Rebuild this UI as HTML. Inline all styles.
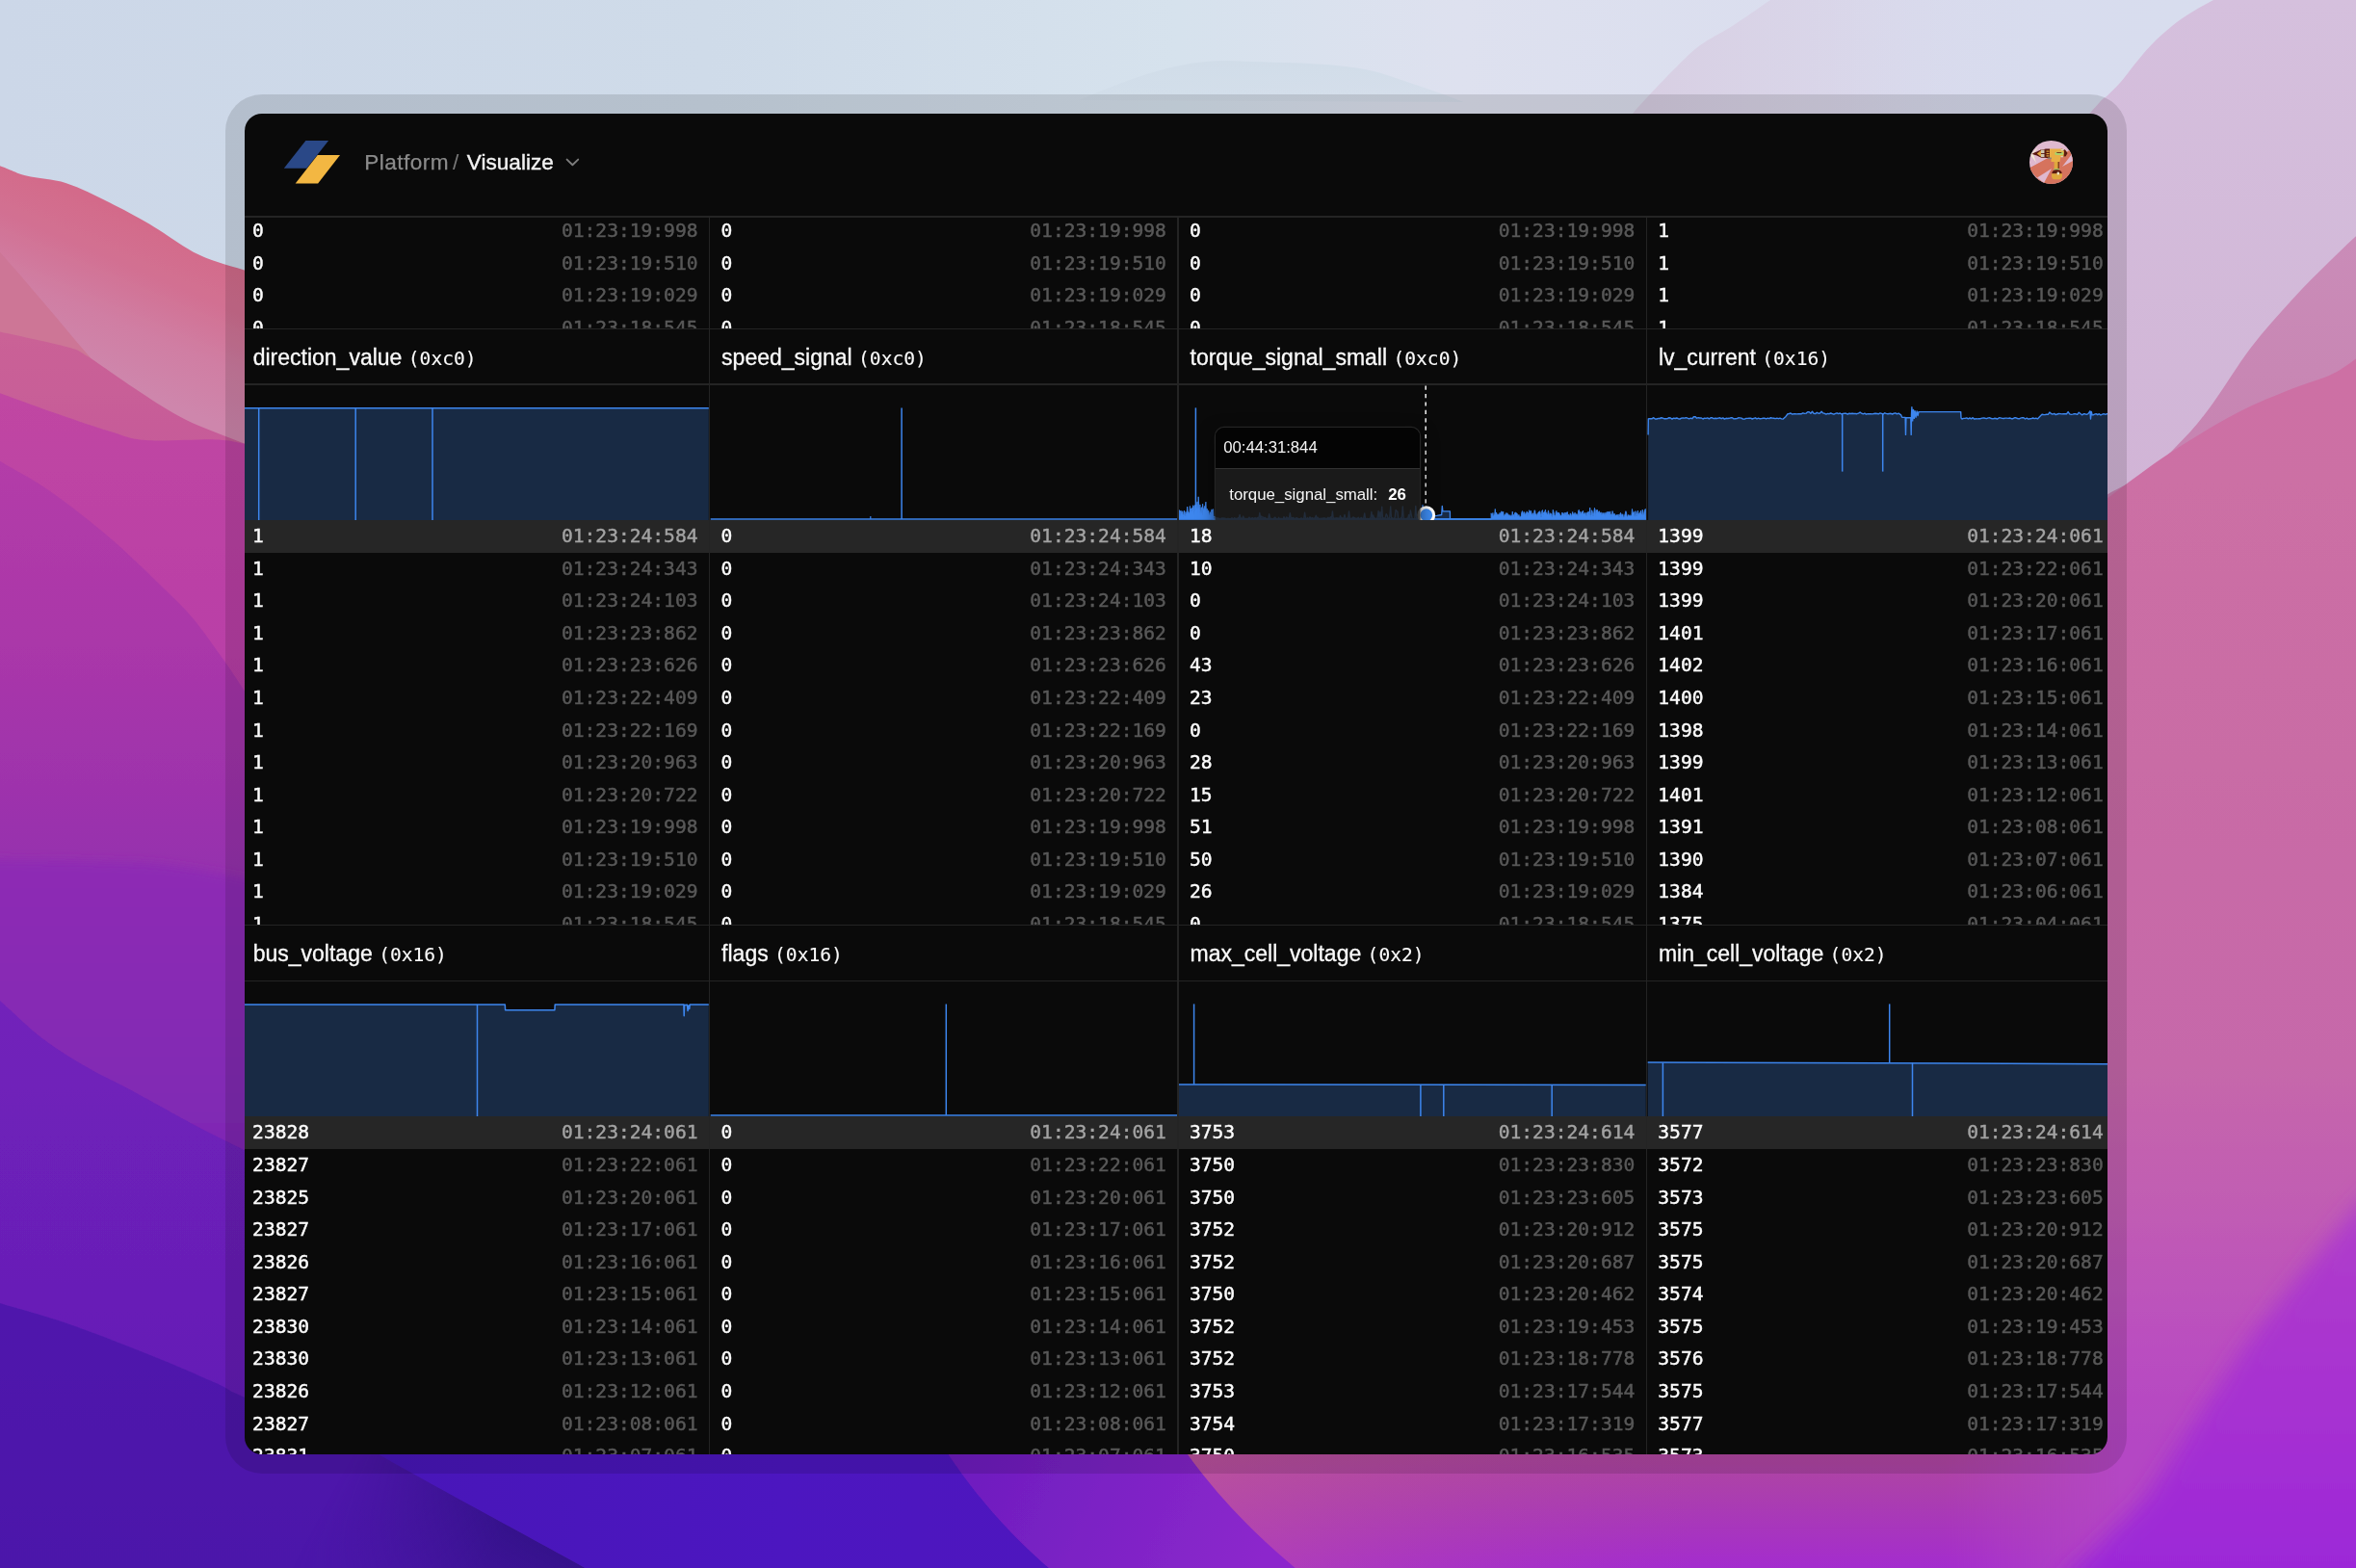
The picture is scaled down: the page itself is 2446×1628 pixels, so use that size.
<!DOCTYPE html>
<html lang="en"><head><meta charset="utf-8"><title>Platform / Visualize</title>
<style>
html,body{margin:0;padding:0}
body{width:2446px;height:1628px;overflow:hidden;position:relative;background:#cfd9e8;
 font-family:"Liberation Sans",sans-serif;-webkit-font-smoothing:antialiased}
#bg{position:absolute;left:0;top:0}
#frame{position:absolute;left:234px;top:98px;width:1974px;height:1432px;border-radius:38px;background:rgba(0,0,0,.118)}
#win{will-change:transform;position:absolute;left:254px;top:118px;width:1934px;height:1392px;border-radius:18px;background:#0a0a0a;overflow:hidden;color:#fafafa}
.abs{position:absolute}
.hl{position:absolute;left:0;width:1934px;height:1.4px;background:#242424}
.vl{position:absolute;width:1.4px;background:#242424}
.mono{font-family:"DejaVu Sans Mono","Liberation Mono",monospace}
.row{position:absolute;height:33.6px;line-height:33.6px;font-family:"DejaVu Sans Mono","Liberation Mono",monospace;font-size:19.6px;white-space:nowrap}
.row b{position:absolute;left:11.8px;top:0.45px;font-weight:400;color:#fcfcfc;-webkit-text-stroke:0.42px #fcfcfc}
.row i{position:absolute;right:12.2px;top:0.45px;font-style:normal;color:#585858;-webkit-text-stroke:0.45px #585858}
.row.on{background:#262626;height:34.4px}
.row.on i{color:#a3a3a3;-webkit-text-stroke:0.4px #a3a3a3}
.ttl{position:absolute;height:56px;line-height:56px;font-size:23px;color:#fafafa;white-space:nowrap;-webkit-text-stroke:0.3px #fafafa}
.ttl span{font-family:"DejaVu Sans Mono","Liberation Mono",monospace;font-size:19.6px;-webkit-text-stroke:0.12px #fafafa}
.sec{position:absolute;overflow:hidden}
svg{display:block}
</style></head><body>
<svg id="bg" width="2446" height="1628" viewBox="0 0 2446 1628">
<defs>
<linearGradient id="gsky" gradientUnits="userSpaceOnUse" x1="0" y1="0" x2="2446" y2="0"><stop offset="0" stop-color="rgb(204,215,232)"/><stop offset="0.3" stop-color="rgb(207,219,233)"/><stop offset="0.5" stop-color="rgb(214,226,237)"/><stop offset="0.62" stop-color="rgb(222,225,239)"/><stop offset="0.85" stop-color="rgb(216,220,238)"/><stop offset="1" stop-color="rgb(216,222,238)"/></linearGradient>
<linearGradient id="gl1" gradientUnits="userSpaceOnUse" x1="130" y1="222" x2="66" y2="372"><stop offset="0" stop-color="rgb(211,107,138)"/><stop offset="0.3" stop-color="rgb(210,112,146)"/><stop offset="0.65" stop-color="rgb(208,126,163)"/><stop offset="1" stop-color="rgb(206,134,172)"/></linearGradient>
<linearGradient id="gl3" gradientUnits="userSpaceOnUse" x1="0" y1="350" x2="0" y2="470"><stop offset="0" stop-color="rgb(202,98,150)"/><stop offset="1" stop-color="rgb(198,90,153)"/></linearGradient>
<linearGradient id="gl4" gradientUnits="userSpaceOnUse" x1="0" y1="410" x2="0" y2="720"><stop offset="0" stop-color="rgb(192,70,162)"/><stop offset="1" stop-color="rgb(184,62,168)"/></linearGradient>
<linearGradient id="gl5" gradientUnits="userSpaceOnUse" x1="0" y1="480" x2="0" y2="900"><stop offset="0" stop-color="rgb(179,60,168)"/><stop offset="0.45" stop-color="rgb(170,55,169)"/><stop offset="0.8" stop-color="rgb(158,51,172)"/><stop offset="1" stop-color="rgb(150,48,174)"/></linearGradient>
<linearGradient id="gl6" gradientUnits="userSpaceOnUse" x1="0" y1="890" x2="0" y2="1200"><stop offset="0" stop-color="rgb(142,43,180)"/><stop offset="1" stop-color="rgb(126,40,180)"/></linearGradient>
<linearGradient id="gl7" gradientUnits="userSpaceOnUse" x1="0" y1="1040" x2="0" y2="1450"><stop offset="0" stop-color="rgb(114,33,186)"/><stop offset="1" stop-color="rgb(100,30,182)"/></linearGradient>
<linearGradient id="gl8" gradientUnits="userSpaceOnUse" x1="0" y1="1350" x2="0" y2="1628"><stop offset="0" stop-color="rgb(80,25,172)"/><stop offset="1" stop-color="rgb(76,24,170)"/></linearGradient>
<linearGradient id="gwp" gradientUnits="userSpaceOnUse" x1="394.6" y1="1510.8" x2="305.4" y2="1672.9"><stop offset="0" stop-color="rgb(52,18,138)" stop-opacity="0.95"/><stop offset="0.35" stop-color="rgb(54,18,140)" stop-opacity="0.6"/><stop offset="0.7" stop-color="rgb(58,19,146)" stop-opacity="0.22"/><stop offset="1" stop-color="rgb(60,20,150)" stop-opacity="0"/></linearGradient>
<linearGradient id="gwa" gradientUnits="userSpaceOnUse" x1="372.7" y1="1498.8" x2="526" y2="1583.1"><stop offset="0" stop-color="rgb(255,255,255)" stop-opacity="0"/><stop offset="0.5" stop-color="rgb(255,255,255)" stop-opacity="0.55"/><stop offset="1" stop-color="rgb(255,255,255)" stop-opacity="1"/></linearGradient>
<mask id="mwedge" maskUnits="userSpaceOnUse" x="-100" y="1300" width="1000" height="500"><rect x="-100" y="1300" width="1000" height="500" fill="url(#gwa)"/></mask>
<linearGradient id="gbma" gradientUnits="userSpaceOnUse" x1="2020" y1="0" x2="2200" y2="0"><stop offset="0" stop-color="rgb(255,255,255)" stop-opacity="1"/><stop offset="0.5" stop-color="rgb(255,255,255)" stop-opacity="0.5"/><stop offset="1" stop-color="rgb(255,255,255)" stop-opacity="0"/></linearGradient>
<mask id="mbm" maskUnits="userSpaceOnUse" x="1100" y="1400" width="1400" height="400"><rect x="1100" y="1400" width="1400" height="400" fill="url(#gbma)"/></mask>
<linearGradient id="gpk" gradientUnits="userSpaceOnUse" x1="1240" y1="1500" x2="1760" y2="1600"><stop offset="0" stop-color="rgb(198,96,150)" stop-opacity="0.45"/><stop offset="0.5" stop-color="rgb(190,86,152)" stop-opacity="0.2"/><stop offset="1" stop-color="rgb(180,76,158)" stop-opacity="0"/></linearGradient>
<linearGradient id="gbb" gradientUnits="userSpaceOnUse" x1="394" y1="0" x2="1090" y2="0"><stop offset="0" stop-color="rgb(72,22,184)"/><stop offset="0.6" stop-color="rgb(76,22,192)"/><stop offset="1" stop-color="rgb(78,22,190)"/></linearGradient>
<linearGradient id="gbp" gradientUnits="userSpaceOnUse" x1="986" y1="1500" x2="1300" y2="1640"><stop offset="0" stop-color="rgb(108,28,190)"/><stop offset="1" stop-color="rgb(140,40,204)"/></linearGradient>
<linearGradient id="gbm" gradientUnits="userSpaceOnUse" x1="0" y1="1505" x2="0" y2="1628"><stop offset="0" stop-color="rgb(176,72,158)"/><stop offset="0.45" stop-color="rgb(170,60,178)"/><stop offset="1" stop-color="rgb(164,44,206)"/></linearGradient>
<linearGradient id="gr0" gradientUnits="userSpaceOnUse" x1="1713" y1="0" x2="2130" y2="0"><stop offset="0" stop-color="rgb(216,207,227)" stop-opacity="1"/><stop offset="0.45" stop-color="rgb(217,211,231)" stop-opacity="0.75"/><stop offset="1" stop-color="rgb(216,219,238)" stop-opacity="0"/></linearGradient>
<linearGradient id="gr1" gradientUnits="userSpaceOnUse" x1="0" y1="0" x2="0" y2="520"><stop offset="0" stop-color="rgb(213,192,221)"/><stop offset="1" stop-color="rgb(209,180,214)"/></linearGradient>
<linearGradient id="gr2" gradientUnits="userSpaceOnUse" x1="0" y1="250" x2="0" y2="520"><stop offset="0" stop-color="rgb(202,140,184)"/><stop offset="1" stop-color="rgb(198,130,176)"/></linearGradient>
<linearGradient id="gr3" gradientUnits="userSpaceOnUse" x1="0" y1="400" x2="0" y2="1500"><stop offset="0" stop-color="rgb(205,112,164)"/><stop offset="0.36" stop-color="rgb(201,108,165)"/><stop offset="0.64" stop-color="rgb(198,104,170)"/><stop offset="0.77" stop-color="rgb(193,93,179)"/><stop offset="0.91" stop-color="rgb(186,78,192)"/><stop offset="1" stop-color="rgb(180,70,196)"/></linearGradient>
<linearGradient id="gr4" gradientUnits="userSpaceOnUse" x1="0" y1="1250" x2="0" y2="1628"><stop offset="0" stop-color="rgb(176,62,202)"/><stop offset="0.6" stop-color="rgb(166,48,210)"/><stop offset="1" stop-color="rgb(156,40,216)"/></linearGradient>
<linearGradient id="ghill" gradientUnits="userSpaceOnUse" x1="0" y1="60" x2="0" y2="110"><stop offset="0" stop-color="rgb(208,220,232)" stop-opacity="0.9"/><stop offset="1" stop-color="rgb(208,220,232)" stop-opacity="0.5"/></linearGradient>
<filter id="b2" x="-5%" y="-5%" width="110%" height="110%"><feGaussianBlur stdDeviation="0.7"/></filter>
<filter id="b6" x="-10%" y="-10%" width="120%" height="120%"><feGaussianBlur stdDeviation="5"/></filter>
<filter id="b12" x="-20%" y="-20%" width="140%" height="140%"><feGaussianBlur stdDeviation="11"/></filter>
<filter id="b20" x="-20%" y="-40%" width="140%" height="180%"><feGaussianBlur stdDeviation="18"/></filter>
</defs>
<rect width="2446" height="1628" fill="url(#gsky)"/>
<path d="M1120 104 C1180 78 1230 62 1275 63 C1340 66 1400 64 1440 78 C1470 88 1500 98 1520 106 Z" fill="url(#ghill)"/>
<path d="M-60.0 150.0 C-50.0 153.7 -14.6 166.9 0.0 172.3 C14.6 177.7 16.0 179.6 27.5 182.6 C39.0 185.6 54.6 185.6 68.9 190.2 C83.2 194.8 99.2 203.1 113.6 210.2 C127.9 217.3 139.5 223.5 155.0 232.6 C170.5 241.7 189.1 256.3 206.6 264.6 C224.1 272.9 244.4 277.3 260.0 282.5 C275.6 287.7 276.7 288.1 300.0 296.0 C323.3 303.9 350.0 314.3 400.0 330.0 C450.0 345.7 516.7 366.7 600.0 390.0 C683.3 413.3 850.0 456.7 900.0 470.0 L900.0 1700.0 L-60.0 1700.0 Z" fill="url(#gl1)" filter="url(#b2)"/>
<path d="M-60.0 195.0 C-50.0 206.1 -17.5 242.1 0.0 261.8 C17.5 281.6 29.6 295.7 44.8 313.5 C60.0 331.3 75.4 350.2 91.3 368.6 C107.2 387.0 131.9 414.8 140.0 424.0 L-60.0 424.0 Z" fill="rgb(205,118,150)" filter="url(#b2)"/>
<path d="M-60.0 331.0 C-50.0 333.2 -21.5 339.7 0.0 344.5 C21.5 349.3 53.7 355.7 68.9 360.0 C84.1 364.3 78.7 362.6 91.3 370.3 C103.9 378.1 127.7 395.6 144.6 406.5 C161.5 417.4 174.4 426.6 192.8 435.7 C211.2 444.8 236.9 453.7 254.8 460.9 C272.7 468.1 275.8 469.1 300.0 479.0 C324.2 488.9 350.0 499.8 400.0 520.0 C450.0 540.2 516.7 570.0 600.0 600.0 C683.3 630.0 850.0 683.3 900.0 700.0 L900.0 1700.0 L-60.0 1700.0 Z" fill="url(#gl3)" filter="url(#b2)"/>
<path d="M-60.0 386.5 C-50.0 390.1 -20.3 400.8 0.0 408.2 C20.3 415.6 43.1 424.0 62.0 430.6 C80.9 437.2 98.7 443.4 113.6 447.8 C128.5 452.2 133.1 455.7 151.5 457.1 C169.9 458.5 206.6 455.8 223.8 456.4 C241.0 457.0 242.1 458.6 254.8 460.9 C267.5 463.2 275.8 463.5 300.0 470.0 C324.2 476.5 350.0 481.7 400.0 500.0 C450.0 518.3 516.7 546.7 600.0 580.0 C683.3 613.3 850.0 680.0 900.0 700.0 L900.0 1700.0 L-60.0 1700.0 Z" fill="url(#gl4)" filter="url(#b2)"/>
<path d="M-60.0 442.8 C-50.0 448.8 -18.6 467.6 0.0 478.8 C18.6 490.0 32.8 496.6 51.7 509.8 C70.6 523.0 94.7 541.9 113.6 558.0 C132.5 574.1 151.0 592.3 165.3 606.2 C179.7 620.1 188.2 627.7 199.7 641.3 C211.1 654.9 224.8 674.9 234.0 687.8 C243.2 700.7 247.8 708.1 254.8 718.8 C261.8 729.5 268.5 740.1 276.0 752.0 C283.5 763.9 288.5 772.0 300.0 790.0 C311.5 808.0 325.0 830.0 345.0 860.0 C365.0 890.0 377.5 913.3 420.0 970.0 C462.5 1026.7 520.0 1111.7 600.0 1200.0 C680.0 1288.3 850.0 1450.0 900.0 1500.0 L900.0 1700.0 L-60.0 1700.0 Z" fill="url(#gl5)" filter="url(#b2)"/>
<path d="M-60.0 892.2 C-50.0 892.3 -27.2 892.3 0.0 892.7 C27.2 893.1 74.3 893.5 103.0 894.4 C131.7 895.3 146.7 895.0 172.0 897.9 C197.3 900.8 233.5 907.6 254.8 911.6 C276.1 915.6 275.8 915.6 300.0 922.0 C324.2 928.4 350.0 935.3 400.0 950.0 C450.0 964.7 516.7 985.0 600.0 1010.0 C683.3 1035.0 850.0 1085.0 900.0 1100.0 L900.0 1700.0 L-60.0 1700.0 Z" fill="url(#gl6)" filter="url(#b6)"/>
<path d="M-60.0 985.8 C-50.0 994.7 -17.5 1023.5 0.0 1039.0 C17.5 1054.5 29.3 1066.9 44.8 1078.7 C60.3 1090.5 77.5 1100.6 93.0 1109.6 C108.5 1118.6 118.8 1122.6 137.7 1132.8 C156.6 1143.0 187.1 1160.3 206.6 1170.6 C226.1 1180.9 239.2 1186.8 254.8 1194.7 C270.4 1202.6 275.8 1205.5 300.0 1218.0 C324.2 1230.5 350.0 1244.7 400.0 1270.0 C450.0 1295.3 516.7 1331.7 600.0 1370.0 C683.3 1408.3 850.0 1478.3 900.0 1500.0 L900.0 1700.0 L-60.0 1700.0 Z" fill="url(#gl7)" filter="url(#b2)"/>
<path d="M-60.0 1335.0 C-50.0 1338.0 -21.5 1346.5 0.0 1353.0 C21.5 1359.5 43.1 1364.9 68.9 1373.8 C94.7 1382.7 129.2 1396.2 155.0 1406.5 C180.8 1416.8 206.3 1428.0 223.8 1435.8 C241.3 1443.5 230.6 1441.5 260.0 1453.0 C289.4 1464.5 373.3 1495.2 400.0 1505.0 C426.7 1514.8 416.7 1510.8 420.0 1512.0 L1300.0 1512.0 L1300.0 1700.0 L-60.0 1700.0 Z" fill="url(#gl8)" filter="url(#b2)"/>
<path d="M1680.0 140.0 C1682.5 136.3 1689.5 125.0 1695.0 118.0 C1700.5 111.0 1705.5 106.0 1713.0 98.0 C1720.5 90.0 1731.3 78.5 1740.0 70.0 C1748.7 61.5 1755.0 54.3 1765.0 47.0 C1775.0 39.7 1787.8 33.8 1800.0 26.0 C1812.2 18.2 1831.7 4.3 1838.0 0.0 L2446.0 0.0 L2446.0 140.0 Z" fill="url(#gr0)"/>
<path d="M2150.0 140.0 C2155.0 134.3 2173.8 112.7 2180.0 106.0 C2186.2 99.3 2183.5 103.3 2187.0 100.0 C2190.5 96.7 2196.2 91.5 2201.0 86.0 C2205.8 80.5 2210.6 73.6 2216.0 67.0 C2221.4 60.4 2227.1 53.1 2233.6 46.4 C2240.1 39.7 2248.1 32.6 2255.0 27.0 C2261.9 21.4 2267.8 17.5 2275.0 13.0 C2282.2 8.5 2290.5 4.2 2298.0 0.0 C2305.5 -4.2 2316.3 -10.0 2320.0 -12.0 L2460.0 0.0 L2460.0 1700.0 L2150.0 1700.0 Z" fill="url(#gr1)" filter="url(#b2)"/>
<path d="M2100.0 575.0 C2108.3 569.2 2135.5 550.2 2150.0 540.0 C2164.5 529.8 2173.7 522.3 2187.0 514.0 C2200.3 505.7 2216.3 500.1 2230.0 490.0 C2243.7 479.9 2257.7 465.6 2269.0 453.6 C2280.3 441.6 2286.6 433.4 2297.9 417.9 C2309.2 402.4 2323.3 378.6 2337.0 360.7 C2350.7 342.8 2366.2 325.8 2380.0 310.7 C2393.8 295.6 2406.7 283.1 2420.0 270.0 C2433.3 256.9 2453.3 238.3 2460.0 232.0 L2460.0 1700.0 L2100.0 1700.0 Z" fill="url(#gr2)" filter="url(#b2)"/>
<path d="M2100.0 580.0 C2108.3 574.2 2135.5 555.4 2150.0 545.0 C2164.5 534.6 2170.2 530.2 2187.0 517.9 C2203.8 505.6 2228.3 486.3 2251.0 471.4 C2273.7 456.5 2301.4 439.9 2322.9 428.6 C2344.4 417.3 2363.3 410.5 2380.0 403.6 C2396.7 396.8 2409.6 394.4 2422.9 387.5 C2436.2 380.6 2453.8 366.2 2460.0 362.0 L2460.0 1700.0 L1200.0 1700.0 L1200.0 1505.0 L2100.0 1505.0 Z" fill="url(#gr3)" filter="url(#b2)"/>
<path d="M307.0 1462.6 L683.7 1669.9 L553.5 1906.4 L176.9 1699.1 Z" fill="url(#gwp)" mask="url(#mwedge)"/>
<path d="M380.0 1495.0 C382.4 1497.6 356.7 1488.6 394.6 1510.8 C432.5 1533.0 569.1 1606.5 607.5 1628.0 C645.9 1649.5 509.6 1638.0 625.0 1640.0 C740.4 1642.0 1187.5 1664.2 1300.0 1640.0 C1412.5 1615.8 1300.0 1519.2 1300.0 1495.0 Z" fill="url(#gbb)"/>
<path d="M960 1495 L978 1500 C1010 1550 1050 1596 1096 1634 L1500 1640 L1500 1495 Z" fill="url(#gbp)" filter="url(#b2)"/>
<path d="M1215 1495 L1233 1510 C1262 1550 1300 1592 1352 1634 L1360 1700 L2460 1700 L2460 1495 Z" fill="url(#gbm)" mask="url(#mbm)"/>
<path d="M1233 1510 C1262 1550 1300 1592 1352 1634 L1800 1634 L1800 1510 Z" fill="url(#gpk)"/>
<path d="M2520 1180 L2446 1253.7 C2420 1285 2370 1345 2337 1389 C2310 1428 2270 1490 2233 1547 C2215 1570 2180 1602 2140 1640 L2140 1700 L2520 1700 L2520 1240 Z" fill="url(#gr4)" filter="url(#b12)"/>
</svg>
<div id="frame"></div>
<div id="win">
<svg class="abs" style="left:36.0px;top:24.0px" width="70" height="54" viewBox="290 142 70 54"><polygon points="317.4,146 341.1,146 318.4,174.8 294.8,174.8" fill="#2a4887"/><polygon points="329.7,161 353,161 330.1,190.4 306.7,190.4" fill="#f3b742"/></svg>
<div class="abs" id="crumb" style="left:124.2px;top:30.6px;height:40px;line-height:40px;font-size:22.6px;white-space:nowrap"><span id="c1" style="color:#8b8b8b;letter-spacing:0.45px;-webkit-text-stroke:0.25px #8b8b8b">Platform</span><span id="c2" style="color:#787878;margin-left:4.1px">/</span><span id="c3" style="color:#f2f2f2;margin-left:8.5px;letter-spacing:0px;-webkit-text-stroke:0.4px #f2f2f2">Visualize</span></div>
<svg class="abs" style="left:330.0px;top:43.0px" width="20" height="14" viewBox="584 161 20 14"><path d="M588.6 165.6 L594.4 171.2 L600.2 165.6" fill="none" stroke="#7d7d7d" stroke-width="1.9" stroke-linecap="round" stroke-linejoin="round"/></svg>
<svg class="abs" style="left:1840.0px;top:16.0px" width="70" height="70" viewBox="0 0 70 70"><defs><clipPath id="avc"><circle cx="35.5" cy="34.4" r="22.5"/></clipPath></defs><g clip-path="url(#avc)"><rect x="10" y="10" width="52" height="50" fill="#dfb9cf"/><polygon points="12,41 34,30 44,30 58,19 62,19 62,60 26,60 20,52 36,41 30,56 21,51" fill="#d6735d"/><polygon points="13,40.5 33,29.5 37,36 21,50" fill="#d6735d"/><polygon points="21,50.5 36,41 28,56" fill="#dfb9cf"/><polygon points="47,39 57,26 58,33" fill="#dfb9cf"/><polygon points="14.8,25.7 20.6,23.4 25.2,21.2 30,20.8 30,29.8 25.2,29.8 20.6,27.6" fill="#5a1a10"/><polygon points="20.8,25.6 25,22.3 25,28.8" fill="#e0a73e"/><polygon points="13.6,26.2 21.9,19 19.4,22.6 16.2,25.4" fill="#f2ecd2"/><polygon points="14,26 17.2,26.8 20,35 15.4,28.4" fill="#f2ecd2"/><rect x="25" y="21.5" width="3.5" height="3.6" fill="#cfc7b0"/><rect x="25" y="26" width="3.5" height="3" fill="#cfc7b0"/><rect x="29.5" y="20.5" width="4.5" height="9.5" fill="#5a1a10"/><rect x="30.5" y="22.5" width="3" height="1.2" fill="#e0a73e"/><rect x="30.5" y="25" width="3" height="1.2" fill="#e0a73e"/><rect x="30.5" y="27.3" width="3" height="1.2" fill="#e0a73e"/><path d="M34 20.5 L47 20.5 L50.5 22 L52.5 25 L50.5 28.5 L45.5 28.5 L44.5 34 L35.5 34 L35.5 30 L34 30 Z" fill="#e8ae45"/><path d="M46 20.8 L50 21.5 L52.6 25 L50.5 28.6 L48.5 28.6 L49 23 Z" fill="#5a1a10"/><rect x="45.6" y="21" width="3.2" height="1.3" fill="#d8d2c0"/><rect x="45.8" y="28" width="2" height="1.3" fill="#d8d2c0"/><rect x="39.3" y="23.8" width="9" height="3.2" rx="1.5" fill="#a9d26b"/><rect x="41.3" y="24" width="5" height="0.9" fill="#6b2a18"/><rect x="32" y="29.5" width="3.8" height="1.6" fill="#8c8678"/><rect x="38.6" y="34" width="5.2" height="7.5" fill="#e0a73e"/><rect x="42.6" y="34" width="1.2" height="7.5" fill="#6b2a18"/><rect x="38.3" y="41" width="5.8" height="1.6" fill="#9fbf66"/><path d="M36.2 46.5 Q36.5 42.3 41.2 42.3 Q46.5 42.3 46.8 46.5 Z" fill="#5a1a10"/><path d="M36 46.3 L47 46.3 L47 49 Q46.5 52 44 52.2 L38.5 52.2 Q36.3 52 36 49 Z" fill="#dea63c"/><rect x="41.6" y="44.6" width="2.4" height="3" rx="1" fill="#ece6c8"/></g></svg>
<div class="hl" style="top:106.30px"></div><div class="hl" style="top:222.80px"></div><div class="hl" style="top:280.20px"></div><div class="hl" style="top:842.05px"></div><div class="hl" style="top:899.50px"></div>
<div class="sec" style="left:0;top:107.7px;width:1934px;height:115.1px"><div class="abs" style="left:0;top:-107.7px">
<div class="row" style="left:-3.7px;top:104.7px;width:486.4px"><b>0</b><i>01:23:19:998</i></div>
<div class="row" style="left:-3.7px;top:138.3px;width:486.4px"><b>0</b><i>01:23:19:510</i></div>
<div class="row" style="left:-3.7px;top:171.9px;width:486.4px"><b>0</b><i>01:23:19:029</i></div>
<div class="row" style="left:-3.7px;top:205.4px;width:486.4px"><b>0</b><i>01:23:18:545</i></div>
<div class="row" style="left:482.7px;top:104.7px;width:486.4px"><b>0</b><i>01:23:19:998</i></div>
<div class="row" style="left:482.7px;top:138.3px;width:486.4px"><b>0</b><i>01:23:19:510</i></div>
<div class="row" style="left:482.7px;top:171.9px;width:486.4px"><b>0</b><i>01:23:19:029</i></div>
<div class="row" style="left:482.7px;top:205.4px;width:486.4px"><b>0</b><i>01:23:18:545</i></div>
<div class="row" style="left:969.1px;top:104.7px;width:486.4px"><b>0</b><i>01:23:19:998</i></div>
<div class="row" style="left:969.1px;top:138.3px;width:486.4px"><b>0</b><i>01:23:19:510</i></div>
<div class="row" style="left:969.1px;top:171.9px;width:486.4px"><b>0</b><i>01:23:19:029</i></div>
<div class="row" style="left:969.1px;top:205.4px;width:486.4px"><b>0</b><i>01:23:18:545</i></div>
<div class="row" style="left:1455.5px;top:104.7px;width:486.4px"><b>1</b><i>01:23:19:998</i></div>
<div class="row" style="left:1455.5px;top:138.3px;width:486.4px"><b>1</b><i>01:23:19:510</i></div>
<div class="row" style="left:1455.5px;top:171.9px;width:486.4px"><b>1</b><i>01:23:19:029</i></div>
<div class="row" style="left:1455.5px;top:205.4px;width:486.4px"><b>1</b><i>01:23:18:545</i></div>
</div></div>
<div class="ttl" style="left:8.7px;top:224.6px">direction_value <span>(0xc0)</span></div>
<div class="ttl" style="left:495.1px;top:224.6px">speed_signal <span>(0xc0)</span></div>
<div class="ttl" style="left:981.5px;top:224.6px">torque_signal_small <span>(0xc0)</span></div>
<div class="ttl" style="left:1467.9px;top:224.6px">lv_current <span>(0x16)</span></div>
<div class="ttl" style="left:8.7px;top:843.9px">bus_voltage <span>(0x16)</span></div>
<div class="ttl" style="left:495.1px;top:843.9px">flags <span>(0x16)</span></div>
<div class="ttl" style="left:981.5px;top:843.9px">max_cell_voltage <span>(0x2)</span></div>
<div class="ttl" style="left:1467.9px;top:843.9px">min_cell_voltage <span>(0x2)</span></div>
<svg class="abs" style="left:-3.7px;top:281.6px" width="486.4" height="140" viewBox="250.3 399.6 486.4 140"><rect x="250.3" y="423.4" width="485.8" height="117" fill="rgb(24,42,68)"/><line x1="250.3" y1="423.4" x2="736.1" y2="423.4" stroke="#3d86ee" stroke-width="1.5"/><line x1="269.0" y1="423.4" x2="269.0" y2="539.6" stroke="#3d86ee" stroke-width="1.5"/><line x1="369.5" y1="423.4" x2="369.5" y2="539.6" stroke="#3d86ee" stroke-width="1.5"/><line x1="449.3" y1="423.4" x2="449.3" y2="539.6" stroke="#3d86ee" stroke-width="1.5"/></svg>
<svg class="abs" style="left:482.7px;top:281.6px" width="486.4" height="140" viewBox="736.7 399.6 486.4 140"><line x1="737.4" y1="538.5" x2="1222.4" y2="538.5" stroke="#3d86ee" stroke-width="1.5"/><line x1="935.8" y1="423.0" x2="935.8" y2="538.5" stroke="#3d86ee" stroke-width="1.5"/><line x1="903.5" y1="535.6" x2="903.5" y2="538.5" stroke="#3d86ee" stroke-width="1.2"/></svg>
<svg class="abs" style="left:969.1px;top:281.6px" width="486.4" height="140" viewBox="1223.1 399.6 486.4 140"><path d="M1224.0 538.6 L1224.0 533.0 L1224.5 529.2 L1225.1 535.8 L1225.6 530.2 L1226.2 529.8 L1226.7 533.8 L1227.3 530.3 L1227.8 530.8 L1228.4 536.3 L1228.9 533.1 L1229.5 529.7 L1230.0 534.7 L1230.6 535.3 L1231.1 531.0 L1231.7 535.0 L1232.2 532.3 L1232.8 525.7 L1233.3 531.3 L1233.9 531.1 L1234.4 532.1 L1235.0 533.2 L1235.5 525.1 L1236.1 531.4 L1236.6 527.5 L1237.2 530.1 L1237.7 527.0 L1238.3 526.4 L1238.8 524.3 L1239.4 525.3 L1239.9 534.3 L1240.5 524.0 L1241.0 526.8 L1241.6 528.9 L1242.1 528.2 L1242.7 523.0 L1243.2 520.4 L1243.8 532.7 L1244.3 515.4 L1244.9 524.9 L1245.4 532.7 L1246.0 523.5 L1246.5 534.5 L1247.1 527.1 L1247.6 526.3 L1248.2 534.3 L1248.7 522.8 L1249.3 529.1 L1249.8 527.9 L1250.4 526.7 L1250.9 524.9 L1251.5 524.9 L1252.0 520.7 L1252.6 532.2 L1253.1 527.7 L1253.7 529.2 L1254.2 530.9 L1254.8 529.5 L1255.3 533.9 L1255.9 534.1 L1256.4 531.3 L1257.0 534.0 L1257.5 530.6 L1258.1 528.4 L1258.6 529.3 L1259.2 528.4 L1259.7 528.3 L1260.2 538.6 Z" fill="#3d86ee" stroke="#3d86ee" stroke-width="0.9" stroke-linejoin="round"/><path d="M1260.0 538.6 L1260.0 536.0 L1263.0 537.2 L1266.0 537.9 L1266.5 538.2 L1267.4 538.5 L1268.3 537.6 L1269.2 537.7 L1270.1 537.6 L1271.0 537.7 L1271.9 537.8 L1272.8 538.2 L1273.7 538.6 L1274.6 538.0 L1275.5 538.0 L1276.4 538.5 L1277.3 538.2 L1278.2 538.3 L1279.1 537.4 L1280.0 538.3 L1280.9 538.3 L1281.8 537.2 L1282.7 538.3 L1283.6 538.0 L1284.5 538.4 L1285.4 537.1 L1286.3 537.6 L1287.2 534.0 L1288.1 538.1 L1289.0 537.6 L1289.9 538.5 L1290.8 535.6 L1291.7 537.9 L1292.6 538.1 L1293.5 538.0 L1294.4 538.2 L1295.3 537.9 L1296.2 538.0 L1297.1 536.6 L1298.0 538.3 L1298.9 537.8 L1299.8 537.4 L1300.7 537.2 L1301.6 538.5 L1302.5 537.4 L1303.4 537.1 L1304.3 538.4 L1305.2 537.3 L1306.1 536.8 L1307.0 538.1 L1307.9 532.1 L1308.8 537.5 L1309.7 535.6 L1310.6 536.7 L1311.5 536.6 L1312.4 537.5 L1313.3 536.9 L1314.2 537.5 L1315.1 538.3 L1316.0 538.6 L1316.9 537.5 L1317.8 533.3 L1318.7 537.8 L1319.6 538.1 L1320.5 537.9 L1321.4 538.4 L1322.3 538.5 L1323.2 537.0 L1324.1 536.8 L1325.0 538.1 L1325.9 538.6 L1326.8 538.6 L1327.7 536.9 L1328.6 538.4 L1329.5 537.9 L1330.4 538.0 L1331.3 538.3 L1332.2 538.4 L1333.1 536.1 L1334.0 537.9 L1334.9 538.3 L1335.8 536.5 L1336.7 537.1 L1337.6 537.4 L1338.5 537.8 L1339.4 532.2 L1340.3 537.4 L1341.2 537.2 L1342.1 537.3 L1343.0 537.1 L1343.9 538.2 L1344.8 538.2 L1345.7 537.3 L1346.6 537.5 L1347.5 537.8 L1348.4 538.5 L1349.3 538.2 L1350.2 537.9 L1351.1 537.4 L1352.0 537.9 L1352.9 538.5 L1353.8 537.8 L1354.7 531.8 L1355.6 537.7 L1356.5 538.6 L1357.4 537.1 L1358.3 537.8 L1359.2 537.9 L1360.1 536.4 L1361.0 538.1 L1361.9 537.3 L1362.8 537.2 L1363.7 538.2 L1364.6 537.6 L1365.5 537.4 L1366.4 534.8 L1367.3 537.6 L1368.2 536.8 L1369.1 537.9 L1370.0 537.9 L1370.9 538.2 L1371.8 537.7 L1372.7 538.2 L1373.6 537.5 L1374.5 537.5 L1375.4 537.4 L1376.3 538.3 L1377.2 537.9 L1378.1 537.6 L1379.0 536.7 L1379.9 537.9 L1380.8 537.2 L1381.7 536.4 L1382.6 537.7 L1383.5 530.5 L1384.4 538.2 L1385.3 537.6 L1386.2 538.0 L1387.1 537.3 L1388.0 537.7 L1388.9 537.4 L1389.8 537.8 L1390.7 538.6 L1391.6 535.0 L1392.5 537.0 L1393.4 537.5 L1394.3 537.5 L1395.2 537.4 L1396.1 533.9 L1397.0 537.8 L1397.9 538.5 L1398.8 537.5 L1399.7 538.3 L1400.6 530.6 L1401.5 537.5 L1402.4 538.0 L1403.3 538.0 L1404.2 537.5 L1405.1 536.4 L1406.0 537.6 L1406.9 537.2 L1407.8 538.3 L1408.7 537.8 L1409.6 537.7 L1410.5 536.9 L1411.4 538.2 L1412.3 538.4 L1413.2 537.0 L1414.1 537.6 L1415.0 538.5 L1415.9 537.2 L1416.8 532.4 L1417.7 538.2 L1418.6 538.3 L1419.5 538.0 L1420.4 538.2 L1421.3 538.3 L1422.2 537.8 L1423.1 538.0 L1424.0 531.0 L1424.9 537.7 L1425.8 534.4 L1426.7 537.9 L1427.6 537.5 L1428.5 538.4 L1429.4 537.9 L1430.3 536.8 L1431.2 530.0 L1432.1 537.7 L1433.0 531.3 L1433.9 537.4 L1434.8 525.7 L1435.7 538.3 L1436.6 537.3 L1437.5 537.9 L1438.4 536.8 L1439.3 533.3 L1440.2 534.6 L1441.1 537.7 L1442.0 538.3 L1442.9 536.0 L1443.8 525.5 L1444.7 538.3 L1445.6 537.4 L1446.5 538.1 L1447.4 537.9 L1448.3 536.6 L1449.2 528.9 L1450.1 530.2 L1451.0 530.6 L1451.9 538.0 L1452.8 538.3 L1453.7 538.6 L1454.6 537.2 L1455.5 536.8 L1456.4 525.5 L1457.3 537.5 L1458.2 538.5 L1459.1 538.0 L1460.0 538.4 L1460.9 537.7 L1461.8 538.1 L1462.7 533.9 L1463.6 538.3 L1464.5 529.6 L1465.4 534.2 L1466.3 538.0 L1467.2 538.4 L1468.1 538.1 L1469.0 537.6 L1469.9 525.0 L1470.8 537.9 L1471.7 537.7 L1472.6 538.1 L1473.5 537.5 L1474.4 538.2 L1475.3 538.0 L1476.2 537.0 L1477.1 524.1 L1478.0 534.3 L1478.9 538.3 L1480.9 534.4 L1486.0 535.6 L1492.0 535.0 L1496.8 534.1 L1497.4 525.0 L1498.0 530.4 L1505.5 530.4 L1505.6 538.6 L1548.0 538.6 Z" fill="rgb(24,42,68)" stroke="#3d86ee" stroke-width="1.3" stroke-linejoin="round"/><path d="M1548.2 538.6 L1548.2 532.4 L1548.8 534.4 L1549.4 535.8 L1550.0 532.1 L1550.6 536.7 L1551.2 534.7 L1551.8 533.7 L1552.4 528.1 L1553.0 534.2 L1553.6 531.6 L1554.2 533.6 L1554.8 533.9 L1555.4 533.8 L1556.0 533.6 L1556.6 534.6 L1557.2 532.0 L1557.8 534.6 L1558.4 531.5 L1559.0 530.4 L1559.6 531.0 L1560.2 532.7 L1560.8 530.8 L1561.4 535.9 L1562.0 535.2 L1562.6 533.8 L1563.2 534.2 L1563.8 532.2 L1564.4 533.3 L1565.0 532.3 L1565.6 533.3 L1566.2 534.9 L1566.8 534.2 L1567.4 535.0 L1568.0 534.3 L1568.6 536.6 L1569.2 534.9 L1569.8 535.9 L1570.4 530.7 L1571.0 535.8 L1571.6 534.1 L1572.2 536.0 L1572.8 532.0 L1573.4 531.5 L1574.0 532.8 L1574.6 532.4 L1575.2 532.7 L1575.8 535.5 L1576.4 535.7 L1577.0 534.0 L1577.6 536.1 L1578.2 536.3 L1578.8 536.4 L1579.4 534.9 L1580.0 531.4 L1580.6 530.2 L1581.2 531.8 L1581.8 534.3 L1582.4 531.1 L1583.0 533.2 L1583.6 535.1 L1584.2 532.1 L1584.8 533.8 L1585.4 530.5 L1586.0 535.3 L1586.6 532.0 L1587.2 534.2 L1587.8 529.3 L1588.4 531.0 L1589.0 530.6 L1589.6 529.9 L1590.2 533.2 L1590.8 534.3 L1591.4 532.4 L1592.0 534.4 L1592.6 534.4 L1593.2 529.3 L1593.8 529.8 L1594.4 534.7 L1595.0 533.3 L1595.6 536.4 L1596.2 533.3 L1596.8 532.3 L1597.4 531.3 L1598.0 531.4 L1598.6 530.3 L1599.2 531.6 L1599.8 535.9 L1600.4 536.4 L1601.0 529.9 L1601.6 529.2 L1602.2 534.5 L1602.8 531.6 L1603.4 531.3 L1604.0 530.7 L1604.6 528.8 L1605.2 533.1 L1605.8 532.0 L1606.4 534.8 L1607.0 533.0 L1607.6 529.5 L1608.2 532.7 L1608.8 535.9 L1609.4 532.7 L1610.0 532.4 L1610.6 533.3 L1611.2 536.3 L1611.8 535.7 L1612.4 528.9 L1613.0 530.8 L1613.6 534.3 L1614.2 534.9 L1614.8 536.1 L1615.4 531.3 L1616.0 530.0 L1616.6 533.2 L1617.2 531.6 L1617.8 532.9 L1618.4 531.9 L1619.0 532.3 L1619.6 534.7 L1620.2 535.1 L1620.8 534.6 L1621.4 535.7 L1622.0 531.6 L1622.6 533.6 L1623.2 532.3 L1623.8 535.4 L1624.4 533.4 L1625.0 531.6 L1625.6 532.3 L1626.2 535.5 L1626.8 531.5 L1627.4 531.1 L1628.0 534.5 L1628.6 533.9 L1629.2 534.8 L1629.8 535.2 L1630.4 532.5 L1631.0 534.0 L1631.6 536.4 L1632.2 533.6 L1632.8 531.1 L1633.4 533.9 L1634.0 533.2 L1634.6 534.5 L1635.2 531.8 L1635.8 535.7 L1636.4 533.7 L1637.0 533.1 L1637.6 534.0 L1638.2 535.4 L1638.8 529.8 L1639.4 528.9 L1640.0 534.4 L1640.6 530.9 L1641.2 532.1 L1641.8 534.2 L1642.4 530.8 L1643.0 533.4 L1643.6 529.9 L1644.2 533.1 L1644.8 533.6 L1645.4 532.6 L1646.0 531.8 L1646.6 534.2 L1647.2 535.3 L1647.8 531.8 L1648.4 531.9 L1649.0 530.9 L1649.6 531.1 L1650.2 535.2 L1650.8 526.6 L1651.4 534.0 L1652.0 536.1 L1652.6 529.3 L1653.2 530.3 L1653.8 534.9 L1654.4 535.2 L1655.0 531.1 L1655.6 527.0 L1656.2 529.4 L1656.8 536.5 L1657.4 529.0 L1658.0 532.1 L1658.6 529.0 L1659.2 532.7 L1659.8 531.1 L1660.4 530.3 L1661.0 532.2 L1661.6 532.7 L1662.2 531.4 L1662.8 533.5 L1663.4 534.9 L1664.0 532.0 L1664.6 533.5 L1665.2 532.1 L1665.8 533.0 L1666.4 535.9 L1667.0 531.9 L1667.6 534.7 L1668.2 531.2 L1668.8 534.2 L1669.4 530.6 L1670.0 532.4 L1670.6 531.2 L1671.2 534.8 L1671.8 530.5 L1672.4 536.5 L1673.0 533.3 L1673.6 536.1 L1674.2 530.2 L1674.8 533.1 L1675.4 534.2 L1676.0 532.8 L1676.6 533.3 L1677.2 535.9 L1677.8 534.5 L1678.4 534.2 L1679.0 534.5 L1679.6 535.1 L1680.2 533.6 L1680.8 537.6 L1681.4 536.0 L1682.0 533.4 L1682.6 532.0 L1683.2 533.2 L1683.8 536.3 L1684.4 533.9 L1685.0 533.4 L1685.6 537.6 L1686.2 536.6 L1686.8 534.8 L1687.4 532.7 L1688.0 530.3 L1688.6 531.8 L1689.2 536.0 L1689.8 536.6 L1690.4 534.4 L1691.0 534.3 L1691.6 535.0 L1692.2 534.3 L1692.8 535.0 L1693.4 535.2 L1694.0 535.0 L1694.6 528.1 L1695.2 531.5 L1695.8 532.5 L1696.4 531.0 L1697.0 535.3 L1697.6 536.5 L1698.2 530.2 L1698.8 535.6 L1699.4 535.0 L1700.0 531.7 L1700.6 529.6 L1701.2 534.5 L1701.8 532.9 L1702.4 532.0 L1703.0 532.1 L1703.6 529.7 L1704.2 533.4 L1704.8 534.4 L1705.4 528.8 L1706.0 534.4 L1706.6 534.7 L1707.2 530.7 L1707.8 528.9 L1708.4 528.0 L1709.0 535.0 L1709.0 538.6 Z" fill="#3d86ee" stroke="#3d86ee" stroke-width="0.9" stroke-linejoin="round"/><line x1="1223.8" y1="538.6" x2="1709.2" y2="538.6" stroke="#3d86ee" stroke-width="1.4"/><line x1="1241.5" y1="423.0" x2="1241.5" y2="538.6" stroke="#3d86ee" stroke-width="1.5"/><line x1="1480.3" y1="400.2" x2="1480.3" y2="528" stroke="#f4f4f4" stroke-width="1.5" stroke-dasharray="4.2 4.2"/><circle cx="1480.9" cy="534.3" r="7.85" fill="#3d8bf0" stroke="#fff" stroke-width="3.0"/></svg>
<div class="sec" style="left:969.1px;top:281.6px;width:486.4px;height:140px"><div class="abs" style="left:39.0px;top:44.3px;width:211.8px;height:130px;border-radius:9px;box-shadow:0 0 0 1.2px rgba(60,60,60,.55),0 6px 18px rgba(0,0,0,.55);overflow:hidden;font-size:16.8px;white-space:nowrap"><div class="abs" style="left:0;top:0;width:100%;height:42.0px;background:rgba(4,4,4,.96)"><span class="abs" id="tt1" style="left:8.2px;top:0;line-height:42px;color:#f5f5f5;letter-spacing:-0.05px">00:44:31:844</span></div><div class="abs" style="left:0;top:42.0px;width:100%;height:1.3px;background:#333"></div><div class="abs" style="left:0;top:43.3px;width:100%;height:90px;background:rgba(29,29,29,.86)"><span class="abs" id="tt2" style="left:14.2px;top:12.0px;line-height:30px;color:#f5f5f5">torque_signal_small:</span><b class="abs" id="tt3" style="left:179.2px;top:12.0px;line-height:30px;color:#fff">26</b></div></div></div>
<svg class="abs" style="left:1455.5px;top:281.6px" width="486.4" height="140" viewBox="1709.5 399.6 486.4 140"><path d="M1710.6 451.0 L1710.8 434.4 L1711.5 434.2 L1713.1 434.4 L1714.7 434.3 L1716.3 433.3 L1717.9 434.6 L1719.5 434.6 L1721.1 434.0 L1722.7 434.1 L1724.3 433.3 L1725.9 433.7 L1727.5 434.4 L1729.1 434.4 L1730.7 434.2 L1732.3 433.3 L1733.9 433.6 L1735.5 434.7 L1737.1 433.7 L1738.7 434.1 L1740.3 433.6 L1741.9 434.3 L1743.5 434.6 L1745.1 433.8 L1746.7 433.5 L1748.3 433.7 L1749.9 433.3 L1751.5 433.8 L1753.1 434.4 L1754.7 433.7 L1756.3 434.3 L1757.9 432.4 L1759.5 432.2 L1761.1 433.8 L1762.7 433.3 L1764.3 433.6 L1765.9 433.6 L1767.5 434.6 L1769.1 433.8 L1770.7 434.0 L1772.3 433.5 L1773.9 434.4 L1775.5 433.4 L1777.1 433.4 L1778.7 434.2 L1780.3 433.8 L1781.9 434.1 L1783.5 433.7 L1785.1 433.4 L1786.7 434.3 L1788.3 433.5 L1789.9 434.7 L1791.5 433.9 L1793.1 434.1 L1794.7 433.9 L1796.3 433.4 L1797.9 433.3 L1799.5 434.5 L1801.1 434.3 L1802.7 434.2 L1804.3 433.4 L1805.9 433.5 L1807.5 433.7 L1809.1 434.7 L1810.7 434.7 L1812.3 434.0 L1813.9 434.0 L1815.5 433.9 L1817.1 433.8 L1818.7 434.6 L1820.3 434.0 L1821.9 433.4 L1823.5 434.4 L1825.1 433.8 L1826.7 434.4 L1828.3 434.2 L1829.9 433.8 L1831.5 433.7 L1833.1 434.4 L1834.7 433.7 L1836.3 434.2 L1837.9 433.3 L1839.5 433.7 L1841.1 433.9 L1842.7 434.2 L1844.3 433.8 L1845.9 434.3 L1847.5 433.8 L1849.1 434.5 L1850.7 434.7 L1853.5 432.0 L1855.5 429.4 L1857.0 429.1 L1858.6 428.6 L1860.2 429.7 L1861.8 429.4 L1863.4 429.4 L1865.0 429.5 L1866.6 429.3 L1868.2 429.3 L1869.8 429.3 L1871.4 428.4 L1873.0 429.0 L1874.6 428.7 L1876.2 427.4 L1877.8 427.3 L1879.4 428.8 L1881.0 426.8 L1882.6 428.9 L1884.2 429.2 L1885.8 427.9 L1887.4 428.8 L1889.0 428.6 L1890.6 426.9 L1892.2 428.5 L1893.8 428.9 L1895.4 429.7 L1897.0 429.0 L1898.6 429.3 L1900.2 428.6 L1901.8 429.2 L1903.4 429.8 L1905.0 428.9 L1906.6 428.4 L1908.2 429.2 L1909.8 428.6 L1911.4 429.6 L1913.0 429.0 L1914.6 428.8 L1916.2 428.9 L1917.8 429.7 L1919.4 428.8 L1921.0 429.1 L1922.6 428.8 L1924.2 429.1 L1925.8 429.1 L1927.4 429.3 L1929.0 428.8 L1930.6 427.6 L1932.2 428.8 L1933.8 429.5 L1935.4 428.8 L1937.0 429.8 L1938.6 429.3 L1940.2 429.3 L1941.8 429.4 L1943.4 429.5 L1945.0 429.1 L1946.6 428.8 L1948.2 429.1 L1949.8 429.4 L1951.4 428.5 L1953.0 429.0 L1954.6 429.6 L1956.2 428.4 L1957.8 429.0 L1959.4 429.4 L1961.0 429.1 L1962.6 428.9 L1964.2 429.6 L1965.8 428.8 L1967.4 428.5 L1969.0 429.4 L1970.6 428.8 L1973.2 430.5 L1974.2 432.9 L1977.6 433.0 L1978.0 451.0 L1978.4 433.4 L1983.3 433.2 L1983.7 451.0 L1984.0 430.0 L1984.4 422.3 L1985.2 436.5 L1986.0 425.0 L1986.8 434.0 L1987.6 426.2 L1988.6 432.8 L1989.6 426.6 L1990.6 431.2 L1991.4 427.2 L1992.2 427.2 L2035.2 427.2 L2035.5 433.6 L2036.5 434.6 L2038.1 434.0 L2039.7 434.0 L2041.3 433.5 L2042.9 434.4 L2044.5 433.6 L2046.1 434.4 L2047.7 433.3 L2049.3 434.7 L2050.9 434.3 L2052.5 434.5 L2054.1 434.2 L2055.7 434.3 L2057.3 433.7 L2058.9 433.5 L2060.5 433.9 L2062.1 434.2 L2063.7 433.5 L2065.3 433.4 L2066.9 434.1 L2068.5 434.5 L2070.1 433.9 L2071.7 434.1 L2073.3 434.6 L2074.9 433.4 L2076.5 433.5 L2078.1 434.0 L2079.7 434.1 L2081.3 433.7 L2082.9 433.7 L2084.5 434.0 L2086.1 433.6 L2087.7 434.3 L2089.3 434.3 L2090.9 433.4 L2092.5 433.4 L2094.1 434.1 L2095.7 434.5 L2097.3 433.8 L2098.9 433.3 L2100.5 433.4 L2102.1 434.6 L2103.7 433.6 L2105.3 434.7 L2106.9 434.4 L2108.5 434.2 L2110.1 433.6 L2111.7 434.2 L2113.3 433.8 L2114.9 434.5 L2117.5 431.8 L2119.5 429.9 L2121.0 430.1 L2122.6 430.2 L2124.2 429.8 L2125.8 430.0 L2127.4 427.7 L2129.0 429.1 L2130.6 429.7 L2132.2 429.0 L2133.8 430.2 L2135.4 429.6 L2137.0 429.1 L2138.6 429.2 L2140.2 429.5 L2141.8 429.2 L2143.4 429.4 L2145.0 429.4 L2146.6 427.2 L2148.2 429.5 L2149.8 430.0 L2151.4 429.7 L2153.0 429.2 L2154.6 429.4 L2156.2 430.0 L2157.8 427.8 L2159.4 429.1 L2161.0 430.4 L2162.6 429.4 L2164.2 429.4 L2165.8 430.0 L2167.4 429.3 L2169.4 426.4 L2170.0 434.6 L2170.8 427.0 L2171.6 430.4 L2172.5 430.5 L2174.1 429.8 L2175.7 429.2 L2177.3 430.3 L2178.9 429.3 L2180.5 430.6 L2182.1 429.7 L2183.7 429.3 L2185.3 429.9 L2186.9 429.3 L2188.5 429.3 L2190.1 429.3 L2191.7 429.8 L2193.3 426.7 L2194.9 429.5 L2196 541.6 L1710.6 541.6 Z" fill="rgb(24,42,68)" stroke="none" stroke-width="0" stroke-linejoin="round"/><path d="M1710.6 451.0 L1710.8 434.4 L1711.5 434.2 L1713.1 434.4 L1714.7 434.3 L1716.3 433.3 L1717.9 434.6 L1719.5 434.6 L1721.1 434.0 L1722.7 434.1 L1724.3 433.3 L1725.9 433.7 L1727.5 434.4 L1729.1 434.4 L1730.7 434.2 L1732.3 433.3 L1733.9 433.6 L1735.5 434.7 L1737.1 433.7 L1738.7 434.1 L1740.3 433.6 L1741.9 434.3 L1743.5 434.6 L1745.1 433.8 L1746.7 433.5 L1748.3 433.7 L1749.9 433.3 L1751.5 433.8 L1753.1 434.4 L1754.7 433.7 L1756.3 434.3 L1757.9 432.4 L1759.5 432.2 L1761.1 433.8 L1762.7 433.3 L1764.3 433.6 L1765.9 433.6 L1767.5 434.6 L1769.1 433.8 L1770.7 434.0 L1772.3 433.5 L1773.9 434.4 L1775.5 433.4 L1777.1 433.4 L1778.7 434.2 L1780.3 433.8 L1781.9 434.1 L1783.5 433.7 L1785.1 433.4 L1786.7 434.3 L1788.3 433.5 L1789.9 434.7 L1791.5 433.9 L1793.1 434.1 L1794.7 433.9 L1796.3 433.4 L1797.9 433.3 L1799.5 434.5 L1801.1 434.3 L1802.7 434.2 L1804.3 433.4 L1805.9 433.5 L1807.5 433.7 L1809.1 434.7 L1810.7 434.7 L1812.3 434.0 L1813.9 434.0 L1815.5 433.9 L1817.1 433.8 L1818.7 434.6 L1820.3 434.0 L1821.9 433.4 L1823.5 434.4 L1825.1 433.8 L1826.7 434.4 L1828.3 434.2 L1829.9 433.8 L1831.5 433.7 L1833.1 434.4 L1834.7 433.7 L1836.3 434.2 L1837.9 433.3 L1839.5 433.7 L1841.1 433.9 L1842.7 434.2 L1844.3 433.8 L1845.9 434.3 L1847.5 433.8 L1849.1 434.5 L1850.7 434.7 L1853.5 432.0 L1855.5 429.4 L1857.0 429.1 L1858.6 428.6 L1860.2 429.7 L1861.8 429.4 L1863.4 429.4 L1865.0 429.5 L1866.6 429.3 L1868.2 429.3 L1869.8 429.3 L1871.4 428.4 L1873.0 429.0 L1874.6 428.7 L1876.2 427.4 L1877.8 427.3 L1879.4 428.8 L1881.0 426.8 L1882.6 428.9 L1884.2 429.2 L1885.8 427.9 L1887.4 428.8 L1889.0 428.6 L1890.6 426.9 L1892.2 428.5 L1893.8 428.9 L1895.4 429.7 L1897.0 429.0 L1898.6 429.3 L1900.2 428.6 L1901.8 429.2 L1903.4 429.8 L1905.0 428.9 L1906.6 428.4 L1908.2 429.2 L1909.8 428.6 L1911.4 429.6 L1913.0 429.0 L1914.6 428.8 L1916.2 428.9 L1917.8 429.7 L1919.4 428.8 L1921.0 429.1 L1922.6 428.8 L1924.2 429.1 L1925.8 429.1 L1927.4 429.3 L1929.0 428.8 L1930.6 427.6 L1932.2 428.8 L1933.8 429.5 L1935.4 428.8 L1937.0 429.8 L1938.6 429.3 L1940.2 429.3 L1941.8 429.4 L1943.4 429.5 L1945.0 429.1 L1946.6 428.8 L1948.2 429.1 L1949.8 429.4 L1951.4 428.5 L1953.0 429.0 L1954.6 429.6 L1956.2 428.4 L1957.8 429.0 L1959.4 429.4 L1961.0 429.1 L1962.6 428.9 L1964.2 429.6 L1965.8 428.8 L1967.4 428.5 L1969.0 429.4 L1970.6 428.8 L1973.2 430.5 L1974.2 432.9 L1977.6 433.0 L1978.0 451.0 L1978.4 433.4 L1983.3 433.2 L1983.7 451.0 L1984.0 430.0 L1984.4 422.3 L1985.2 436.5 L1986.0 425.0 L1986.8 434.0 L1987.6 426.2 L1988.6 432.8 L1989.6 426.6 L1990.6 431.2 L1991.4 427.2 L1992.2 427.2 L2035.2 427.2 L2035.5 433.6 L2036.5 434.6 L2038.1 434.0 L2039.7 434.0 L2041.3 433.5 L2042.9 434.4 L2044.5 433.6 L2046.1 434.4 L2047.7 433.3 L2049.3 434.7 L2050.9 434.3 L2052.5 434.5 L2054.1 434.2 L2055.7 434.3 L2057.3 433.7 L2058.9 433.5 L2060.5 433.9 L2062.1 434.2 L2063.7 433.5 L2065.3 433.4 L2066.9 434.1 L2068.5 434.5 L2070.1 433.9 L2071.7 434.1 L2073.3 434.6 L2074.9 433.4 L2076.5 433.5 L2078.1 434.0 L2079.7 434.1 L2081.3 433.7 L2082.9 433.7 L2084.5 434.0 L2086.1 433.6 L2087.7 434.3 L2089.3 434.3 L2090.9 433.4 L2092.5 433.4 L2094.1 434.1 L2095.7 434.5 L2097.3 433.8 L2098.9 433.3 L2100.5 433.4 L2102.1 434.6 L2103.7 433.6 L2105.3 434.7 L2106.9 434.4 L2108.5 434.2 L2110.1 433.6 L2111.7 434.2 L2113.3 433.8 L2114.9 434.5 L2117.5 431.8 L2119.5 429.9 L2121.0 430.1 L2122.6 430.2 L2124.2 429.8 L2125.8 430.0 L2127.4 427.7 L2129.0 429.1 L2130.6 429.7 L2132.2 429.0 L2133.8 430.2 L2135.4 429.6 L2137.0 429.1 L2138.6 429.2 L2140.2 429.5 L2141.8 429.2 L2143.4 429.4 L2145.0 429.4 L2146.6 427.2 L2148.2 429.5 L2149.8 430.0 L2151.4 429.7 L2153.0 429.2 L2154.6 429.4 L2156.2 430.0 L2157.8 427.8 L2159.4 429.1 L2161.0 430.4 L2162.6 429.4 L2164.2 429.4 L2165.8 430.0 L2167.4 429.3 L2169.4 426.4 L2170.0 434.6 L2170.8 427.0 L2171.6 430.4 L2172.5 430.5 L2174.1 429.8 L2175.7 429.2 L2177.3 430.3 L2178.9 429.3 L2180.5 430.6 L2182.1 429.7 L2183.7 429.3 L2185.3 429.9 L2186.9 429.3 L2188.5 429.3 L2190.1 429.3 L2191.7 429.8 L2193.3 426.7 L2194.9 429.5" fill="none" stroke="#3d86ee" stroke-width="1.4" stroke-linejoin="round"/><line x1="1912.2" y1="429.0" x2="1912.2" y2="489.2" stroke="#3d86ee" stroke-width="1.5"/><line x1="1954.2" y1="429.0" x2="1954.2" y2="489.2" stroke="#3d86ee" stroke-width="1.5"/></svg>
<svg class="abs" style="left:-3.7px;top:900.9px" width="486.4" height="140" viewBox="250.3 1018.9 486.4 140"><path d="M250.3 1042.9 L524.6 1042.9 L524.9 1048.6 L576.2 1048.6 L576.5 1042.9 L710.2 1042.9 L710.5 1054.6 L710.9 1043.4 L713.8 1043.2 L714.3 1049.4 L715.4 1044.0 L716.0 1047.4 L716.5 1042.9 L736.1 1042.9 L736.1 1160.9 L250.3 1160.9 Z" fill="rgb(24,42,68)" stroke="none" stroke-width="0" stroke-linejoin="round"/><path d="M250.3 1042.9 L524.6 1042.9 L524.9 1048.6 L576.2 1048.6 L576.5 1042.9 L710.2 1042.9 L710.5 1054.6 L710.9 1043.4 L713.8 1043.2 L714.3 1049.4 L715.4 1044.0 L716.0 1047.4 L716.5 1042.9 L736.1 1042.9" fill="none" stroke="#3d86ee" stroke-width="1.5" stroke-linejoin="round"/><line x1="495.8" y1="1042.9" x2="495.8" y2="1158.9" stroke="#3d86ee" stroke-width="1.5"/></svg>
<svg class="abs" style="left:482.7px;top:900.9px" width="486.4" height="140" viewBox="736.7 1018.9 486.4 140"><line x1="737.4" y1="1157.8" x2="1222.4" y2="1157.8" stroke="#3d86ee" stroke-width="1.5"/><line x1="982.0" y1="1042.4" x2="982.0" y2="1157.8" stroke="#3d86ee" stroke-width="1.5"/></svg>
<svg class="abs" style="left:969.1px;top:900.9px" width="486.4" height="140" viewBox="1223.1 1018.9 486.4 140"><rect x="1223.8" y="1125.8" width="485" height="36" fill="rgb(24,42,68)"/><line x1="1223.8" y1="1125.8" x2="1708.8" y2="1126.3" stroke="#3d86ee" stroke-width="1.5"/><line x1="1239.7" y1="1042.3" x2="1239.7" y2="1125.8" stroke="#3d86ee" stroke-width="1.5"/><line x1="1475.0" y1="1126.0" x2="1475.0" y2="1158.9" stroke="#3d86ee" stroke-width="1.5"/><line x1="1498.9" y1="1126.0" x2="1498.9" y2="1158.9" stroke="#3d86ee" stroke-width="1.5"/><line x1="1611.3" y1="1126.0" x2="1611.3" y2="1158.9" stroke="#3d86ee" stroke-width="1.5"/></svg>
<svg class="abs" style="left:1455.5px;top:900.9px" width="486.4" height="140" viewBox="1709.5 1018.9 486.4 140"><polygon points="1710.2,1102.8 2196,1104.6 2196,1162 1710.2,1162" fill="rgb(24,42,68)"/><line x1="1710.2" y1="1102.8" x2="2196.0" y2="1104.6" stroke="#3d86ee" stroke-width="1.5"/><line x1="1961.2" y1="1042.3" x2="1961.2" y2="1103.6" stroke="#3d86ee" stroke-width="1.5"/><line x1="1725.9" y1="1103.4" x2="1725.9" y2="1158.9" stroke="#3d86ee" stroke-width="1.5"/><line x1="1985.0" y1="1103.4" x2="1985.0" y2="1158.9" stroke="#3d86ee" stroke-width="1.5"/></svg>
<div class="sec" style="left:0;top:421.6px;width:1934px;height:420.4px"><div class="abs" style="left:0;top:-421.6px">
<div class="row on" style="left:-3.7px;top:421.6px;width:486.4px"><b>1</b><i>01:23:24:584</i></div>
<div class="row" style="left:-3.7px;top:455.2px;width:486.4px"><b>1</b><i>01:23:24:343</i></div>
<div class="row" style="left:-3.7px;top:488.8px;width:486.4px"><b>1</b><i>01:23:24:103</i></div>
<div class="row" style="left:-3.7px;top:522.3px;width:486.4px"><b>1</b><i>01:23:23:862</i></div>
<div class="row" style="left:-3.7px;top:555.9px;width:486.4px"><b>1</b><i>01:23:23:626</i></div>
<div class="row" style="left:-3.7px;top:589.5px;width:486.4px"><b>1</b><i>01:23:22:409</i></div>
<div class="row" style="left:-3.7px;top:623.1px;width:486.4px"><b>1</b><i>01:23:22:169</i></div>
<div class="row" style="left:-3.7px;top:656.7px;width:486.4px"><b>1</b><i>01:23:20:963</i></div>
<div class="row" style="left:-3.7px;top:690.2px;width:486.4px"><b>1</b><i>01:23:20:722</i></div>
<div class="row" style="left:-3.7px;top:723.8px;width:486.4px"><b>1</b><i>01:23:19:998</i></div>
<div class="row" style="left:-3.7px;top:757.4px;width:486.4px"><b>1</b><i>01:23:19:510</i></div>
<div class="row" style="left:-3.7px;top:791.0px;width:486.4px"><b>1</b><i>01:23:19:029</i></div>
<div class="row" style="left:-3.7px;top:824.6px;width:486.4px"><b>1</b><i>01:23:18:545</i></div>
<div class="row on" style="left:482.7px;top:421.6px;width:486.4px"><b>0</b><i>01:23:24:584</i></div>
<div class="row" style="left:482.7px;top:455.2px;width:486.4px"><b>0</b><i>01:23:24:343</i></div>
<div class="row" style="left:482.7px;top:488.8px;width:486.4px"><b>0</b><i>01:23:24:103</i></div>
<div class="row" style="left:482.7px;top:522.3px;width:486.4px"><b>0</b><i>01:23:23:862</i></div>
<div class="row" style="left:482.7px;top:555.9px;width:486.4px"><b>0</b><i>01:23:23:626</i></div>
<div class="row" style="left:482.7px;top:589.5px;width:486.4px"><b>0</b><i>01:23:22:409</i></div>
<div class="row" style="left:482.7px;top:623.1px;width:486.4px"><b>0</b><i>01:23:22:169</i></div>
<div class="row" style="left:482.7px;top:656.7px;width:486.4px"><b>0</b><i>01:23:20:963</i></div>
<div class="row" style="left:482.7px;top:690.2px;width:486.4px"><b>0</b><i>01:23:20:722</i></div>
<div class="row" style="left:482.7px;top:723.8px;width:486.4px"><b>0</b><i>01:23:19:998</i></div>
<div class="row" style="left:482.7px;top:757.4px;width:486.4px"><b>0</b><i>01:23:19:510</i></div>
<div class="row" style="left:482.7px;top:791.0px;width:486.4px"><b>0</b><i>01:23:19:029</i></div>
<div class="row" style="left:482.7px;top:824.6px;width:486.4px"><b>0</b><i>01:23:18:545</i></div>
<div class="row on" style="left:969.1px;top:421.6px;width:486.4px"><b>18</b><i>01:23:24:584</i></div>
<div class="row" style="left:969.1px;top:455.2px;width:486.4px"><b>10</b><i>01:23:24:343</i></div>
<div class="row" style="left:969.1px;top:488.8px;width:486.4px"><b>0</b><i>01:23:24:103</i></div>
<div class="row" style="left:969.1px;top:522.3px;width:486.4px"><b>0</b><i>01:23:23:862</i></div>
<div class="row" style="left:969.1px;top:555.9px;width:486.4px"><b>43</b><i>01:23:23:626</i></div>
<div class="row" style="left:969.1px;top:589.5px;width:486.4px"><b>23</b><i>01:23:22:409</i></div>
<div class="row" style="left:969.1px;top:623.1px;width:486.4px"><b>0</b><i>01:23:22:169</i></div>
<div class="row" style="left:969.1px;top:656.7px;width:486.4px"><b>28</b><i>01:23:20:963</i></div>
<div class="row" style="left:969.1px;top:690.2px;width:486.4px"><b>15</b><i>01:23:20:722</i></div>
<div class="row" style="left:969.1px;top:723.8px;width:486.4px"><b>51</b><i>01:23:19:998</i></div>
<div class="row" style="left:969.1px;top:757.4px;width:486.4px"><b>50</b><i>01:23:19:510</i></div>
<div class="row" style="left:969.1px;top:791.0px;width:486.4px"><b>26</b><i>01:23:19:029</i></div>
<div class="row" style="left:969.1px;top:824.6px;width:486.4px"><b>0</b><i>01:23:18:545</i></div>
<div class="row on" style="left:1455.5px;top:421.6px;width:486.4px"><b>1399</b><i>01:23:24:061</i></div>
<div class="row" style="left:1455.5px;top:455.2px;width:486.4px"><b>1399</b><i>01:23:22:061</i></div>
<div class="row" style="left:1455.5px;top:488.8px;width:486.4px"><b>1399</b><i>01:23:20:061</i></div>
<div class="row" style="left:1455.5px;top:522.3px;width:486.4px"><b>1401</b><i>01:23:17:061</i></div>
<div class="row" style="left:1455.5px;top:555.9px;width:486.4px"><b>1402</b><i>01:23:16:061</i></div>
<div class="row" style="left:1455.5px;top:589.5px;width:486.4px"><b>1400</b><i>01:23:15:061</i></div>
<div class="row" style="left:1455.5px;top:623.1px;width:486.4px"><b>1398</b><i>01:23:14:061</i></div>
<div class="row" style="left:1455.5px;top:656.7px;width:486.4px"><b>1399</b><i>01:23:13:061</i></div>
<div class="row" style="left:1455.5px;top:690.2px;width:486.4px"><b>1401</b><i>01:23:12:061</i></div>
<div class="row" style="left:1455.5px;top:723.8px;width:486.4px"><b>1391</b><i>01:23:08:061</i></div>
<div class="row" style="left:1455.5px;top:757.4px;width:486.4px"><b>1390</b><i>01:23:07:061</i></div>
<div class="row" style="left:1455.5px;top:791.0px;width:486.4px"><b>1384</b><i>01:23:06:061</i></div>
<div class="row" style="left:1455.5px;top:824.6px;width:486.4px"><b>1375</b><i>01:23:04:061</i></div>
</div></div>
<div class="row on" style="left:-3.7px;top:1040.9px;width:486.4px"><b>23828</b><i>01:23:24:061</i></div>
<div class="row" style="left:-3.7px;top:1074.5px;width:486.4px"><b>23827</b><i>01:23:22:061</i></div>
<div class="row" style="left:-3.7px;top:1108.1px;width:486.4px"><b>23825</b><i>01:23:20:061</i></div>
<div class="row" style="left:-3.7px;top:1141.6px;width:486.4px"><b>23827</b><i>01:23:17:061</i></div>
<div class="row" style="left:-3.7px;top:1175.2px;width:486.4px"><b>23826</b><i>01:23:16:061</i></div>
<div class="row" style="left:-3.7px;top:1208.8px;width:486.4px"><b>23827</b><i>01:23:15:061</i></div>
<div class="row" style="left:-3.7px;top:1242.4px;width:486.4px"><b>23830</b><i>01:23:14:061</i></div>
<div class="row" style="left:-3.7px;top:1276.0px;width:486.4px"><b>23830</b><i>01:23:13:061</i></div>
<div class="row" style="left:-3.7px;top:1309.5px;width:486.4px"><b>23826</b><i>01:23:12:061</i></div>
<div class="row" style="left:-3.7px;top:1343.1px;width:486.4px"><b>23827</b><i>01:23:08:061</i></div>
<div class="row" style="left:-3.7px;top:1376.7px;width:486.4px"><b>23831</b><i>01:23:07:061</i></div>
<div class="row on" style="left:482.7px;top:1040.9px;width:486.4px"><b>0</b><i>01:23:24:061</i></div>
<div class="row" style="left:482.7px;top:1074.5px;width:486.4px"><b>0</b><i>01:23:22:061</i></div>
<div class="row" style="left:482.7px;top:1108.1px;width:486.4px"><b>0</b><i>01:23:20:061</i></div>
<div class="row" style="left:482.7px;top:1141.6px;width:486.4px"><b>0</b><i>01:23:17:061</i></div>
<div class="row" style="left:482.7px;top:1175.2px;width:486.4px"><b>0</b><i>01:23:16:061</i></div>
<div class="row" style="left:482.7px;top:1208.8px;width:486.4px"><b>0</b><i>01:23:15:061</i></div>
<div class="row" style="left:482.7px;top:1242.4px;width:486.4px"><b>0</b><i>01:23:14:061</i></div>
<div class="row" style="left:482.7px;top:1276.0px;width:486.4px"><b>0</b><i>01:23:13:061</i></div>
<div class="row" style="left:482.7px;top:1309.5px;width:486.4px"><b>0</b><i>01:23:12:061</i></div>
<div class="row" style="left:482.7px;top:1343.1px;width:486.4px"><b>0</b><i>01:23:08:061</i></div>
<div class="row" style="left:482.7px;top:1376.7px;width:486.4px"><b>0</b><i>01:23:07:061</i></div>
<div class="row on" style="left:969.1px;top:1040.9px;width:486.4px"><b>3753</b><i>01:23:24:614</i></div>
<div class="row" style="left:969.1px;top:1074.5px;width:486.4px"><b>3750</b><i>01:23:23:830</i></div>
<div class="row" style="left:969.1px;top:1108.1px;width:486.4px"><b>3750</b><i>01:23:23:605</i></div>
<div class="row" style="left:969.1px;top:1141.6px;width:486.4px"><b>3752</b><i>01:23:20:912</i></div>
<div class="row" style="left:969.1px;top:1175.2px;width:486.4px"><b>3752</b><i>01:23:20:687</i></div>
<div class="row" style="left:969.1px;top:1208.8px;width:486.4px"><b>3750</b><i>01:23:20:462</i></div>
<div class="row" style="left:969.1px;top:1242.4px;width:486.4px"><b>3752</b><i>01:23:19:453</i></div>
<div class="row" style="left:969.1px;top:1276.0px;width:486.4px"><b>3752</b><i>01:23:18:778</i></div>
<div class="row" style="left:969.1px;top:1309.5px;width:486.4px"><b>3753</b><i>01:23:17:544</i></div>
<div class="row" style="left:969.1px;top:1343.1px;width:486.4px"><b>3754</b><i>01:23:17:319</i></div>
<div class="row" style="left:969.1px;top:1376.7px;width:486.4px"><b>3750</b><i>01:23:16:535</i></div>
<div class="row on" style="left:1455.5px;top:1040.9px;width:486.4px"><b>3577</b><i>01:23:24:614</i></div>
<div class="row" style="left:1455.5px;top:1074.5px;width:486.4px"><b>3572</b><i>01:23:23:830</i></div>
<div class="row" style="left:1455.5px;top:1108.1px;width:486.4px"><b>3573</b><i>01:23:23:605</i></div>
<div class="row" style="left:1455.5px;top:1141.6px;width:486.4px"><b>3575</b><i>01:23:20:912</i></div>
<div class="row" style="left:1455.5px;top:1175.2px;width:486.4px"><b>3575</b><i>01:23:20:687</i></div>
<div class="row" style="left:1455.5px;top:1208.8px;width:486.4px"><b>3574</b><i>01:23:20:462</i></div>
<div class="row" style="left:1455.5px;top:1242.4px;width:486.4px"><b>3575</b><i>01:23:19:453</i></div>
<div class="row" style="left:1455.5px;top:1276.0px;width:486.4px"><b>3576</b><i>01:23:18:778</i></div>
<div class="row" style="left:1455.5px;top:1309.5px;width:486.4px"><b>3575</b><i>01:23:17:544</i></div>
<div class="row" style="left:1455.5px;top:1343.1px;width:486.4px"><b>3577</b><i>01:23:17:319</i></div>
<div class="row" style="left:1455.5px;top:1376.7px;width:486.4px"><b>3573</b><i>01:23:16:535</i></div>
<div class="vl" style="left:482.00px;top:107.7px;height:1284.3px"></div><div class="vl" style="left:968.40px;top:107.7px;height:1284.3px"></div><div class="vl" style="left:1454.80px;top:107.7px;height:1284.3px"></div>
</div>
</body></html>
